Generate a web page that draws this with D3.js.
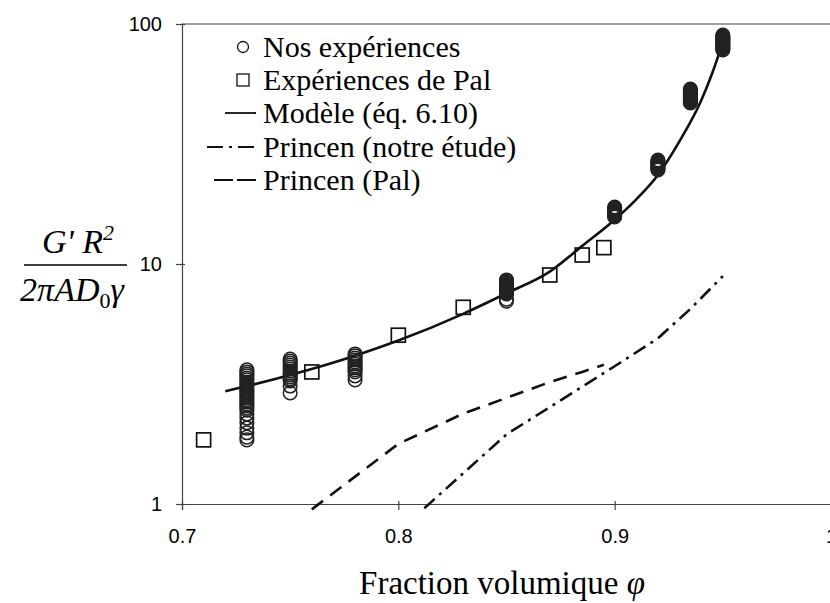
<!DOCTYPE html>
<html><head><meta charset="utf-8">
<script src="https://cdn.jsdelivr.net/npm/d3@7"></script>
<style>body{margin:0;background:#fff}svg{display:block}</style>
</head><body>
<svg id="c" width="830" height="603"></svg>
<script>
// ---- data ----
const xTicks = [0.7, 0.8, 0.9, 1.0];
const xTickLabels = ["0.7", "0.8", "0.9", "1"];
const yTicks = [1, 10, 100];
const yTickLabels = ["1", "10", "100"];

const nosPhi = [0.73, 0.75, 0.78, 0.85, 0.90, 0.92, 0.935, 0.95];
const nos073 = [3.62,3.55,3.48,3.42,3.35,3.29,3.22,3.16,3.10,3.04,2.98,2.93,2.87,2.82,2.76,2.71,2.66,2.61,2.56,2.51,2.46,2.37,2.28,2.18,2.07,1.98,1.90,1.85];
const nos075 = [4.02,3.94,3.87,3.79,3.72,3.65,3.58,3.51,3.45,3.38,3.32,3.26,3.10,2.90];
const nos078 = [4.22,4.14,4.06,3.98,3.91,3.83,3.76,3.69,3.62,3.55,3.42,3.29];
const nos085 = [8.58,8.50,8.41,8.33,8.25,8.18,8.10,8.02,7.94,7.87,7.79,7.72,7.64,7.57,7.50,7.14,7.00];
const nos090 = [17.28,17.11,16.95,16.79,16.63,16.47,16.31,16.16,16.00,15.85,15.70];
const nos092 = [27.13,26.87,26.61,26.36,26.10,25.85,25.61,25.36,25.12,24.88,24.64];
const nos0935 = [53.61,53.09,52.58,52.08,51.58,51.09,50.60,50.12,49.64,49.16,48.70,48.23,47.77,47.32,46.86];
const nos095 = [89.98,89.13,88.27,87.44,86.60,85.77,84.96,84.14,83.34,82.54,81.75,80.97,80.20,79.43,78.67,77.92];
const nosG = [nos073, nos075, nos078, nos085, nos090, nos092, nos0935, nos095];

const palPhi = [0.71, 0.76, 0.80, 0.83, 0.87, 0.885, 0.895];
const palG   = [1.85, 3.55, 5.05, 6.6, 9.0, 10.9, 11.7];

const modelPhi = [0.72, 0.73, 0.75, 0.78, 0.80, 0.83, 0.85, 0.87, 0.885, 0.90, 0.91, 0.92, 0.93, 0.94, 0.945, 0.95];
const modelG   = [2.95, 3.1, 3.45, 4.15, 4.8, 6.2, 7.55, 9.3, 11.9, 15.3, 18.6, 23.5, 32.5, 48, 62, 84];

const princenNotrePhi = [0.812, 0.85, 0.90, 0.92, 0.935, 0.95];
const princenNotreG   = [0.96, 1.95, 3.75, 4.9, 6.5, 8.9];

const princenPalPhi = [0.76, 0.80, 0.83, 0.87, 0.885, 0.895];
const princenPalG   = [0.95, 1.78, 2.38, 3.22, 3.55, 3.8];

const legendLabels = ["Nos expériences", "Expériences de Pal", "Modèle (éq. 6.10)", "Princen (notre étude)", "Princen (Pal)"];

// ---- chart ----
const svg = d3.select("#c");
const x = d3.scaleLinear().domain([0.7, 1.0]).range([182, 831]);
const y = d3.scaleLog().domain([1, 100]).range([504, 24]);
const serif = "Liberation Serif, Times New Roman, serif";
const sans = "Liberation Sans, Arial, sans-serif";
const axisCol = "#444";

// frame
svg.append("line").attr("x1", x(0.7)).attr("x2", 830).attr("y1", y(100)).attr("y2", y(100)).attr("stroke", axisCol).attr("stroke-width", 1.2);

// axes
const xAxis = svg.append("g").attr("transform", `translate(0,${y(1)})`)
  .call(d3.axisBottom(x).tickValues(xTicks).tickSize(6).tickPadding(19).tickFormat((d, i) => xTickLabels[i]));
const yAxis = svg.append("g").attr("transform", `translate(${x(0.7)},0)`)
  .call(d3.axisLeft(y).tickValues(yTicks).tickSize(6).tickPadding(14).tickFormat((d, i) => yTickLabels[i]));
[xAxis, yAxis].forEach(g => {
  g.select(".domain").attr("stroke", axisCol).attr("stroke-width", 1.2);
  g.selectAll(".tick line").attr("stroke", axisCol).attr("stroke-width", 1.2);
  g.selectAll(".tick text").attr("font-family", sans).attr("font-size", 20).attr("fill", "#000");
});
xAxis.selectAll(".tick line").attr("y1", -3);
yAxis.selectAll(".tick line").attr("x1", 3);

// lines
const line = d3.line().x(d => x(d[0])).y(d => y(d[1]));
const modelLine = d3.line().x(d => x(d[0])).y(d => y(d[1])).curve(d3.curveMonotoneX);
svg.append("path").datum(modelPhi.map((p, i) => [p, modelG[i]]))
  .attr("d", modelLine).attr("fill", "none").attr("stroke", "#111").attr("stroke-width", 2.6);
svg.append("path").datum(princenNotrePhi.map((p, i) => [p, princenNotreG[i]]))
  .attr("d", line).attr("fill", "none").attr("stroke", "#111").attr("stroke-width", 2.6)
  .attr("stroke-dasharray", "14,6,3,6");
svg.append("path").datum(princenPalPhi.map((p, i) => [p, princenPalG[i]]))
  .attr("d", line).attr("fill", "none").attr("stroke", "#111").attr("stroke-width", 2.6)
  .attr("stroke-dasharray", "14,9");

// our experiments: circles
const nosPts = [];
nosPhi.forEach((p, i) => nosG[i].forEach(v => nosPts.push([p, v])));
svg.append("g").selectAll("circle").data(nosPts).join("circle")
  .attr("cx", d => x(d[0])).attr("cy", d => y(d[1])).attr("r", 6.8)
  .attr("fill", "none").attr("stroke", "#222").attr("stroke-width", 1.5);

// Pal squares
const sq = 14;
svg.append("g").selectAll("rect").data(palPhi.map((p, i) => [p, palG[i]])).join("rect")
  .attr("x", d => x(d[0]) - sq / 2).attr("y", d => y(d[1]) - sq / 2)
  .attr("width", sq).attr("height", sq)
  .attr("fill", "none").attr("stroke", "#111").attr("stroke-width", 1.7);

// legend
const lg = svg.append("g");
const rowY = [47, 80, 113, 147, 180];
const tx = 263;
legendLabels.forEach((t, i) => {
  lg.append("text").attr("x", tx).attr("y", rowY[i] + 10).attr("font-family", serif)
    .attr("font-size", 30).attr("fill", "#000").text(t);
});
lg.append("circle").attr("cx", 243).attr("cy", rowY[0]).attr("r", 5.5).attr("fill", "none").attr("stroke", "#111").attr("stroke-width", 1.3);
lg.append("rect").attr("x", 237).attr("y", rowY[1] - 6).attr("width", 12).attr("height", 12).attr("fill", "none").attr("stroke", "#111").attr("stroke-width", 1.3);
lg.append("line").attr("x1", 225).attr("x2", 256).attr("y1", rowY[2]).attr("y2", rowY[2]).attr("stroke", "#111").attr("stroke-width", 1.8);
lg.append("line").attr("x1", 207).attr("x2", 256).attr("y1", rowY[3]).attr("y2", rowY[3]).attr("stroke", "#111").attr("stroke-width", 1.8).attr("stroke-dasharray", "16,6,3,6");
lg.append("line").attr("x1", 214).attr("x2", 256).attr("y1", rowY[4]).attr("y2", rowY[4]).attr("stroke", "#111").attr("stroke-width", 1.8).attr("stroke-dasharray", "19,4");

// x title
const xt = svg.append("text").attr("x", 502).attr("y", 594).attr("text-anchor", "middle")
  .attr("font-family", serif).attr("font-size", 33).attr("fill", "#000");
xt.append("tspan").text("Fraction volumique ");
xt.append("tspan").attr("font-style", "italic").text("φ");

// y title (fraction)
const num = svg.append("text").attr("x", 78).attr("y", 253).attr("text-anchor", "middle")
  .attr("font-family", serif).attr("font-size", 34).attr("font-style", "italic").attr("fill", "#000");
num.append("tspan").text("G' R");
num.append("tspan").attr("font-size", 22).attr("dy", -13).text("2");
svg.append("line").attr("x1", 24).attr("x2", 127).attr("y1", 265).attr("y2", 265).attr("stroke", "#000").attr("stroke-width", 1.6);
const den = svg.append("text").attr("x", 72).attr("y", 301).attr("text-anchor", "middle")
  .attr("font-family", serif).attr("font-size", 34).attr("font-style", "italic").attr("fill", "#000");
den.append("tspan").text("2πAD");
den.append("tspan").attr("font-size", 22).attr("dy", 7).attr("font-style", "normal").text("0");
den.append("tspan").attr("dy", -7).text("γ");
</script>
</body></html>
